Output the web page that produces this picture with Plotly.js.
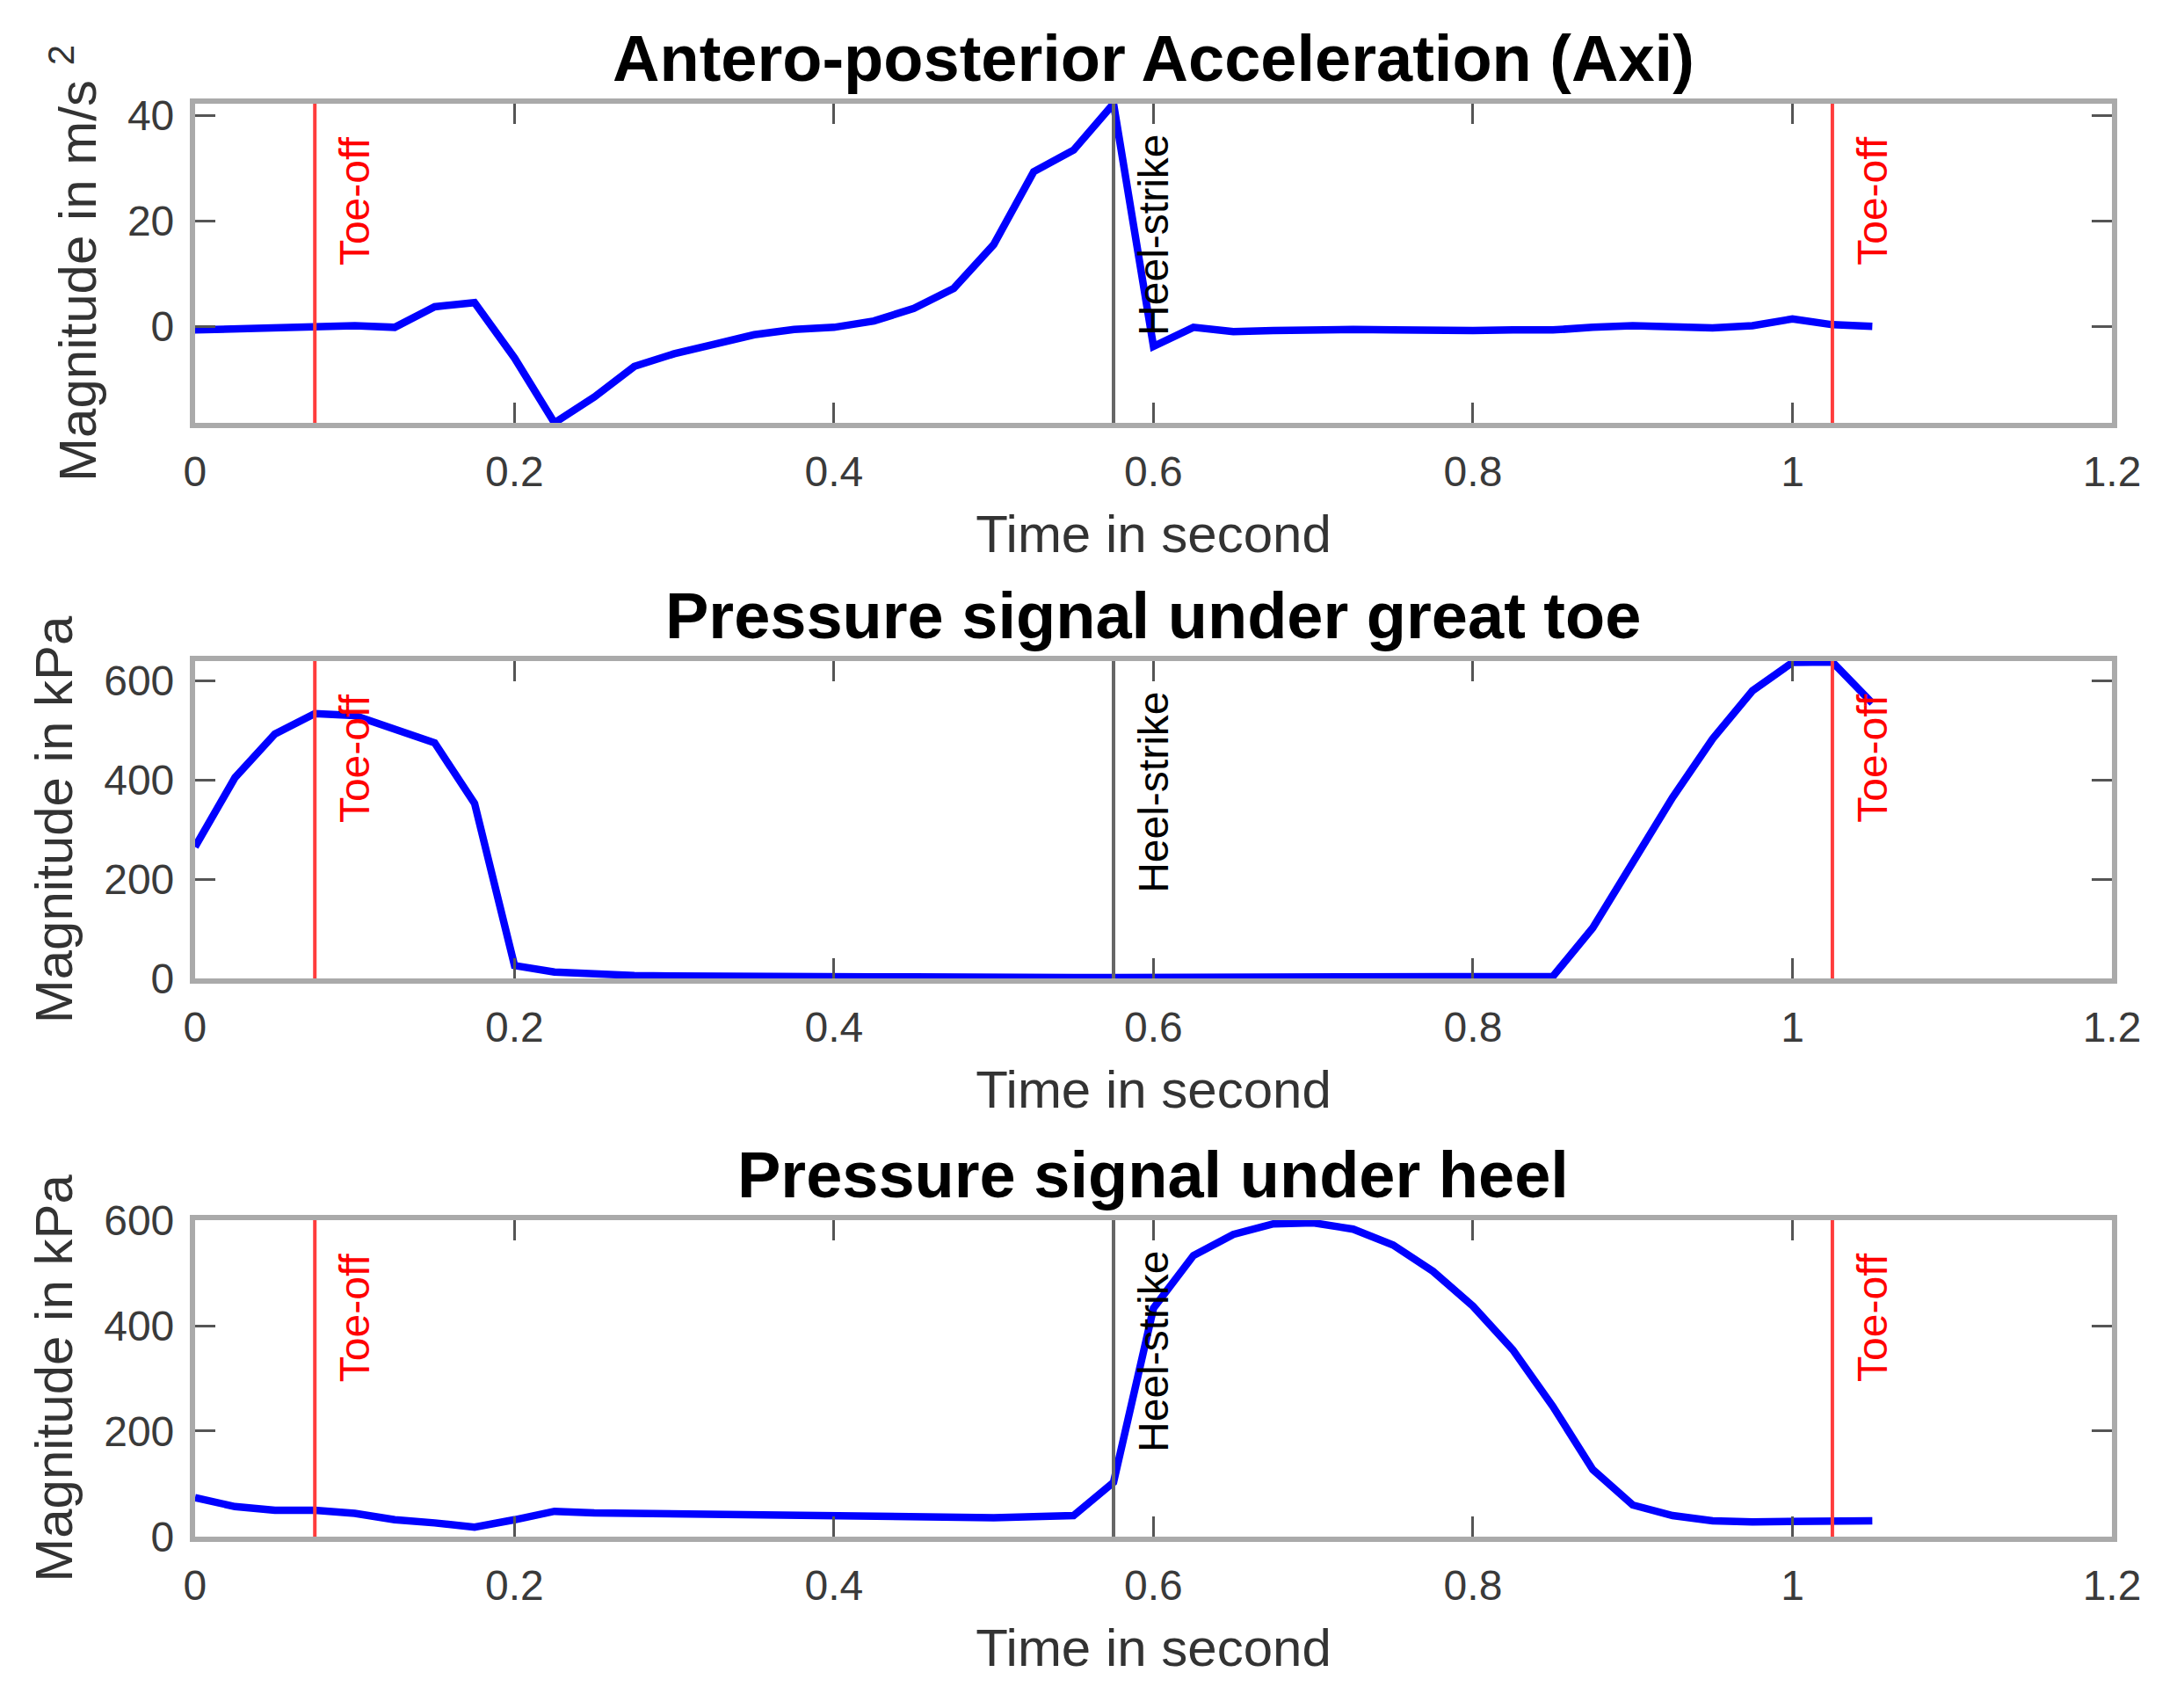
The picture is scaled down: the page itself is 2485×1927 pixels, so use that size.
<!DOCTYPE html>
<html>
<head>
<meta charset="utf-8">
<script src="https://cdn.plot.ly/plotly-3.0.1.min.js"></script>
<style>html,body{margin:0;padding:0;background:#fff;}#chart{width:2485px;height:1927px;}</style>
</head>
<body>
<div id="chart"></div>
<script>
// ---- data ----
const timeSec = [0, 0.025, 0.05, 0.075, 0.1, 0.125, 0.15, 0.175, 0.2, 0.225, 0.25, 0.275, 0.3, 0.325, 0.35, 0.375, 0.4, 0.425, 0.45, 0.475, 0.5, 0.525, 0.55, 0.575, 0.6, 0.625, 0.65, 0.675, 0.7, 0.725, 0.75, 0.775, 0.8, 0.825, 0.85, 0.875, 0.9, 0.925, 0.95, 0.975, 1.0, 1.025, 1.05];
const accelAxi = [-0.7, -0.5, -0.3, -0.3, 0.1, -0.2, 3.7, 4.5, -6.0, -18.3, -13.4, -7.6, -5.2, -3.4, -1.6, -0.6, -0.2, 1.0, 3.4, 7.2, 15.5, 29.3, 33.4, 42.2, -3.8, -0.2, -1.0, -0.8, -0.6, -0.6, -0.7, -0.9, -0.8, -0.7, -0.7, -0.2, 0.1, -0.1, -0.3, 0.1, 1.4, 0.3, 0.0];
const pressureToe = [265, 405, 493, 534, 530, 501, 475, 353, 26, 13, 8, 6, 5, 4, 4, 3, 3, 3, 3, 2, 2, 2, 2, 2, 2, 2, 2, 1, 1, 1, 1, 1, 1, 1, 4, 102, 235, 365, 483, 580, 637, 638, 555];
const pressureHeel = [74, 57, 50, 50, 44, 32, 26, 18, 32, 48, 45, 44, 44, 44, 42, 40, 38, 38, 37, 35, 36, 38, 40, 103, 433, 533, 573, 593, 595, 583, 553, 503, 437, 354, 247, 127, 60, 40, 30, 28, 28, 28, 30];
const toeOffTimes = [0.075, 1.025];
const heelStrikeTimes = [0.575];
const eventLabelOffset = 0.025;
const panelTitles = ["Antero-posterior Acceleration (Axi)", "Pressure signal under great toe", "Pressure signal under heel"];
const yTitles = ["Magnitude in m/s <sup>2</sup>", "Magnitude in kPa", "Magnitude in kPa"];
const xTitle = "Time in second";
const yRanges = [[-18.3, 42.2], [0, 640], [0, 600]];
const yDticks = [20, 200, 200];

// ---- style ----
const FONT = "Liberation Sans, Arial, Helvetica, sans-serif";
const series = [accelAxi, pressureToe, pressureHeel];
const yDomains = [[0.7504, 0.9388], [0.4224, 0.6098], [0.0929, 0.2797]];
const xDomain = [0.0893, 0.9670];

const traces = series.map((ys, i) => ({
  type: "scatter", mode: "lines",
  x: timeSec, y: ys,
  xaxis: i === 0 ? "x" : "x" + (i + 1),
  yaxis: i === 0 ? "y" : "y" + (i + 1),
  line: {color: "#0000ff", width: 8.5},
  showlegend: false, hoverinfo: "skip"
}));

const layout = {
  width: 2485, height: 1927,
  margin: {l: 0, r: 0, t: 0, b: 0},
  paper_bgcolor: "#ffffff", plot_bgcolor: "#ffffff",
  font: {family: FONT, color: "#333333", size: 48},
  showlegend: false,
  shapes: [], annotations: []
};

function axisCommon() {
  return {
    showgrid: false, zeroline: false,
    showline: true, linecolor: "#aaaaaa", linewidth: 6, mirror: "ticks",
    ticks: "inside", ticklen: 23, tickwidth: 3, tickcolor: "#555555",
    tickfont: {family: FONT, size: 48, color: "#3a3a3a"}
  };
}

for (let i = 0; i < 3; i++) {
  const sfx = i === 0 ? "" : String(i + 1);
  const xa = Object.assign(axisCommon(), {
    domain: xDomain, range: [0, 1.2], dtick: 0.2, tick0: 0,
    anchor: "y" + sfx,
    title: {text: xTitle, font: {family: FONT, size: 60, color: "#333333"}, standoff: 26},
    ticklabelstandoff: 8
  });
  const ya = Object.assign(axisCommon(), {
    domain: yDomains[i], range: yRanges[i], dtick: yDticks[i], tick0: 0,
    anchor: "x" + sfx,
    title: {text: yTitles[i], font: {family: FONT, size: 60, color: "#333333"}, standoff: 18},
    ticklabelstandoff: 8
  });
  layout["xaxis" + sfx] = xa;
  layout["yaxis" + sfx] = ya;

  const xref = "x" + sfx, yref = "y" + sfx;
  toeOffTimes.forEach(t => {
    layout.shapes.push({type: "line", xref: xref, yref: yref + " domain", x0: t, x1: t, y0: 0, y1: 1,
      line: {color: "rgb(255,60,60)", width: 4}, layer: "above"});
    layout.annotations.push({xref: xref, yref: yref + " domain", x: t + eventLabelOffset, y: 1, yshift: -35,
      xanchor: "center", yanchor: "top", textangle: -90, showarrow: false, text: "Toe-off",
      font: {family: FONT, size: 48, color: "#ff0000"}});
  });
  heelStrikeTimes.forEach(t => {
    layout.shapes.push({type: "line", xref: xref, yref: yref + " domain", x0: t, x1: t, y0: 0, y1: 1,
      line: {color: "#666666", width: 4}, layer: "above"});
    layout.annotations.push({xref: xref, yref: yref + " domain", x: t + eventLabelOffset, y: 1, yshift: -33,
      xanchor: "center", yanchor: "top", textangle: -90, showarrow: false, text: "Heel-strike",
      font: {family: FONT, size: 48, color: "#000000"}});
  });
  layout.annotations.push({xref: xref + " domain", yref: yref + " domain", x: 0.5, y: 1, yshift: 8,
    xanchor: "center", yanchor: "bottom", showarrow: false, text: "<b>" + panelTitles[i] + "</b>",
    font: {family: FONT, size: 74, color: "#000000"}});
}

Plotly.newPlot("chart", traces, layout, {staticPlot: true, displayModeBar: false});
</script>
</body>
</html>
